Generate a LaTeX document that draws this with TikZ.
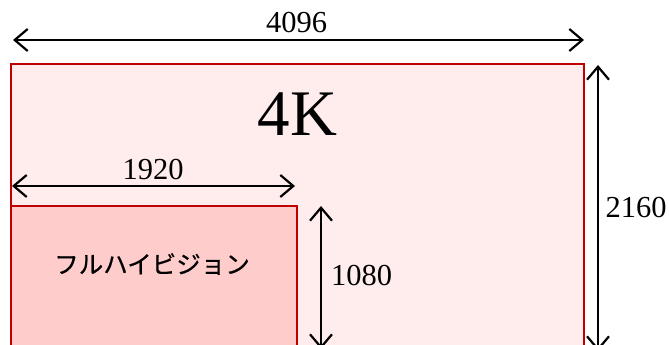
\documentclass[tikz,border=0pt]{standalone}
\usepackage{fontspec}
\setmainfont{Liberation Serif}
\newfontfamily\jpfont[FakeBold=0.6]{Noto Sans CJK JP}
\usetikzlibrary{arrows.meta}
\definecolor{frame}{HTML}{C00000}
\definecolor{bigfill}{HTML}{FFECEC}
\definecolor{smallfill}{HTML}{FFCCCC}
\tikzset{
  screen/.style={draw=frame, line width=2.3pt},
  dim/.style={line width=2.5pt, {Straight Barb[length=13pt,width=22pt,line width=2.2pt]}-{Straight Barb[length=13pt,width=22pt,line width=2.2pt]}},
  num/.style={inner sep=0pt, font=\fontsize{30.5}{30.5}\selectfont},
}
\begin{document}
\begin{tikzpicture}[x=1pt,y=-1pt]
\useasboundingbox (0,0) rectangle (669,345);
\clip (0,0) rectangle (669,345);
\fill[white] (0,0) rectangle (669,345);
% rectangles
\node[screen, fill=bigfill, anchor=north west, minimum width=573pt, minimum height=310pt, inner sep=0pt] (big) at (10,63) {};
\node[screen, fill=smallfill, anchor=north west, minimum width=286pt, minimum height=170pt, inner sep=0pt] (small) at (10,205) {};
% labels
\node[inner sep=0pt, font=\fontsize{65}{65}\selectfont] (k4) at (297.5,114) {4K};
\node[inner sep=0pt, font=\jpfont\fontsize{24.5}{24.5}\selectfont] (fhd) at (152,264) {フルハイビジョン};
% dimension end points
\coordinate (w1) at (13,40);
\coordinate (w2) at (584,40);
\coordinate (f1) at (12,186);
\coordinate (f2) at (295,186);
\coordinate (h1) at (321,206);
\coordinate (h2) at (321,349);
\coordinate (v1) at (598,65);
\coordinate (v2) at (598,351);
\draw[dim] (w1) -- (w2);
\draw[dim] (f1) -- (f2);
\draw[dim] (h1) -- (h2);
\draw[dim] (v1) -- (v2);
\node[num] (l4096) at (296.5,23) {4096};
\node[num] (l1920) at (153,170) {1920};
\node[num] (l1080) at (361.5,276) {1080};
\node[num] (l2160) at (636,208) {2160};
\end{tikzpicture}
\end{document}
